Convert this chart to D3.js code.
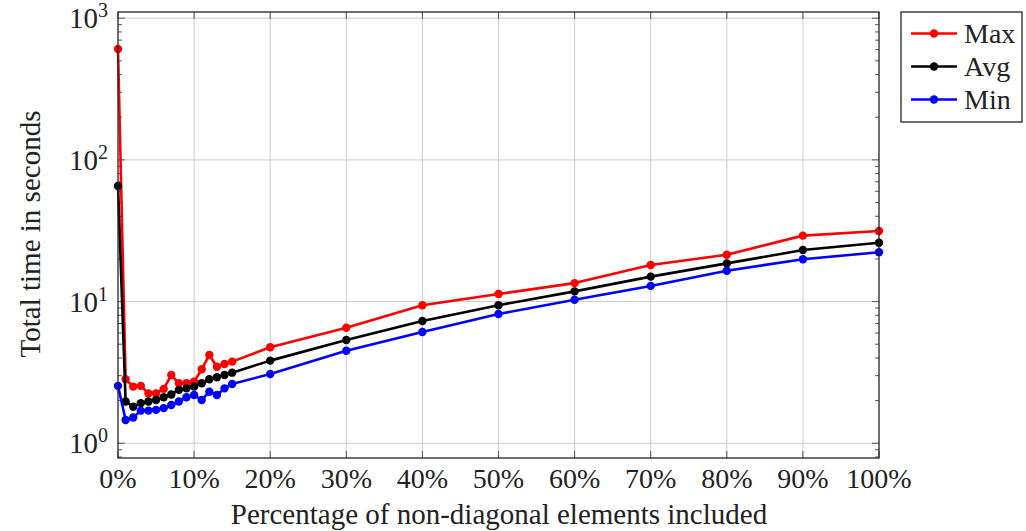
<!DOCTYPE html>
<html>
<head>
<meta charset="utf-8">
<script src="https://cdn.jsdelivr.net/npm/d3@7"></script>
<style>
  body { margin: 0; background: #fff; }
  #chart text { font-family: "Liberation Serif", "DejaVu Serif", serif; }
</style>
</head>
<body>
<svg id="chart" width="1026" height="531"></svg>
<script>
// percentage of non-diagonal elements included
const percents = [0, 1, 2, 3, 4, 5, 6, 7, 8, 9, 10, 11, 12, 13, 14, 15, 20, 30, 40, 50, 60, 70, 80, 90, 100];

// total time in seconds
const maxTimes = [606, 2.83, 2.51, 2.54, 2.25, 2.25, 2.42, 3.03, 2.65, 2.65, 2.72, 3.33, 4.2, 3.47, 3.63, 3.77,
  4.76, 6.54, 9.42, 11.3, 13.5, 18.1, 21.4, 29.2, 31.5];
const avgTimes = [65.4, 1.97, 1.81, 1.92, 1.97, 2.02, 2.11, 2.21, 2.38, 2.44, 2.51, 2.65, 2.83, 2.92, 3.03, 3.15,
  3.83, 5.36, 7.3, 9.42, 11.8, 15.0, 18.6, 23.1, 26.0];
const minTimes = [2.54, 1.46, 1.52, 1.7, 1.7, 1.72, 1.77, 1.86, 1.97, 2.11, 2.19, 2.02, 2.31, 2.19, 2.44, 2.62,
  3.08, 4.5, 6.1, 8.17, 10.3, 12.9, 16.5, 19.9, 22.3];

const xTicks = [0, 10, 20, 30, 40, 50, 60, 70, 80, 90, 100];
const yTicks = [1, 10, 100, 1000];

const series = [
  {name: "Max", color: "#ff0000", values: maxTimes},
  {name: "Avg", color: "#000000", values: avgTimes},
  {name: "Min", color: "#0000ff", values: minTimes}
];

const svg = d3.select("#chart");
const plotLeft = 118, plotRight = 879, plotTop = 12, plotBottom = 458;
const yMin = 0.787, yMax = 1106;

const x = d3.scaleLinear().domain([0, 100]).range([plotLeft, plotRight]);
const y = d3.scaleLog().domain([yMin, yMax]).range([plotBottom, plotTop]);

// grid
const grid = svg.append("g").attr("stroke", "#cccccc").attr("stroke-width", 1);
grid.selectAll("line.gx").data(xTicks.slice(1, -1)).enter().append("line")
  .attr("x1", d => x(d)).attr("x2", d => x(d)).attr("y1", plotTop).attr("y2", plotBottom);
grid.selectAll("line.gy").data(yTicks).enter().append("line")
  .attr("y1", d => y(d)).attr("y2", d => y(d)).attr("x1", plotLeft).attr("x2", plotRight);

// minor log ticks, inside the frame on both sides
const minor = [];
for (let e = -1; e < 3; e++) {
  for (let m = 2; m <= 9; m++) minor.push(m * Math.pow(10, e));
}
const tk = svg.append("g").attr("stroke", "#555").attr("stroke-width", 1);
minor.filter(v => v > yMin && v < yMax).forEach(v => {
  tk.append("line").attr("x1", plotLeft).attr("x2", plotLeft + 4).attr("y1", y(v)).attr("y2", y(v));
  tk.append("line").attr("x1", plotRight - 4).attr("x2", plotRight).attr("y1", y(v)).attr("y2", y(v));
});
yTicks.forEach(v => {
  tk.append("line").attr("x1", plotLeft).attr("x2", plotLeft + 7).attr("y1", y(v)).attr("y2", y(v));
  tk.append("line").attr("x1", plotRight - 7).attr("x2", plotRight).attr("y1", y(v)).attr("y2", y(v));
});
xTicks.forEach(v => {
  tk.append("line").attr("x1", x(v)).attr("x2", x(v)).attr("y1", plotBottom).attr("y2", plotBottom - 7);
  tk.append("line").attr("x1", x(v)).attr("x2", x(v)).attr("y1", plotTop).attr("y2", plotTop + 7);
});

// lines and markers
const line = d3.line().x((d, i) => x(percents[i])).y(d => y(d));
series.forEach(s => {
  svg.append("path").datum(s.values)
    .attr("fill", "none").attr("stroke", s.color).attr("stroke-width", 2.6)
    .attr("stroke-linejoin", "round").attr("d", line);
  svg.append("g").selectAll("circle").data(s.values).enter().append("circle")
    .attr("cx", (d, i) => x(percents[i])).attr("cy", d => y(d)).attr("r", 4.2)
    .attr("fill", s.color);
});

// frame
svg.append("rect").attr("x", plotLeft).attr("y", plotTop)
  .attr("width", plotRight - plotLeft).attr("height", plotBottom - plotTop)
  .attr("fill", "none").attr("stroke", "#222").attr("stroke-width", 1.3);

// x tick labels
svg.append("g").attr("fill", "#222").selectAll("text").data(xTicks).enter().append("text")
  .attr("x", d => x(d)).attr("y", 488).attr("text-anchor", "middle")
  .attr("font-size", 28).text(d => d + "%");

// y tick labels 10^n
const yl = svg.append("g").attr("fill", "#222");
yTicks.forEach(v => {
  const t = yl.append("text").attr("x", 108).attr("y", y(v) + 10).attr("text-anchor", "end").attr("font-size", 29);
  t.append("tspan").text("10");
  t.append("tspan").attr("font-size", 20).attr("dy", -11).text(Math.round(Math.log10(v)));
});

// axis titles
svg.append("text").attr("x", 499).attr("y", 524).attr("text-anchor", "middle").attr("fill", "#222")
  .attr("font-size", 29).text("Percentage of non-diagonal elements included");
svg.append("text").attr("transform", "translate(40,234) rotate(-90)").attr("text-anchor", "middle")
  .attr("fill", "#222").attr("font-size", 29).text("Total time in seconds");

// legend
const lg = svg.append("g");
lg.append("rect").attr("x", 901).attr("y", 12).attr("width", 121).attr("height", 110)
  .attr("fill", "#fff").attr("stroke", "#222").attr("stroke-width", 1.3);
series.forEach((s, i) => {
  const ly = 33.5 + i * 33;
  lg.append("line").attr("x1", 911).attr("x2", 957).attr("y1", ly).attr("y2", ly)
    .attr("stroke", s.color).attr("stroke-width", 2.6);
  lg.append("circle").attr("cx", 934).attr("cy", ly).attr("r", 4.2).attr("fill", s.color);
  lg.append("text").attr("x", 964).attr("y", ly + 9).attr("font-size", 28).attr("fill", "#222").text(s.name);
});
</script>
</body>
</html>
